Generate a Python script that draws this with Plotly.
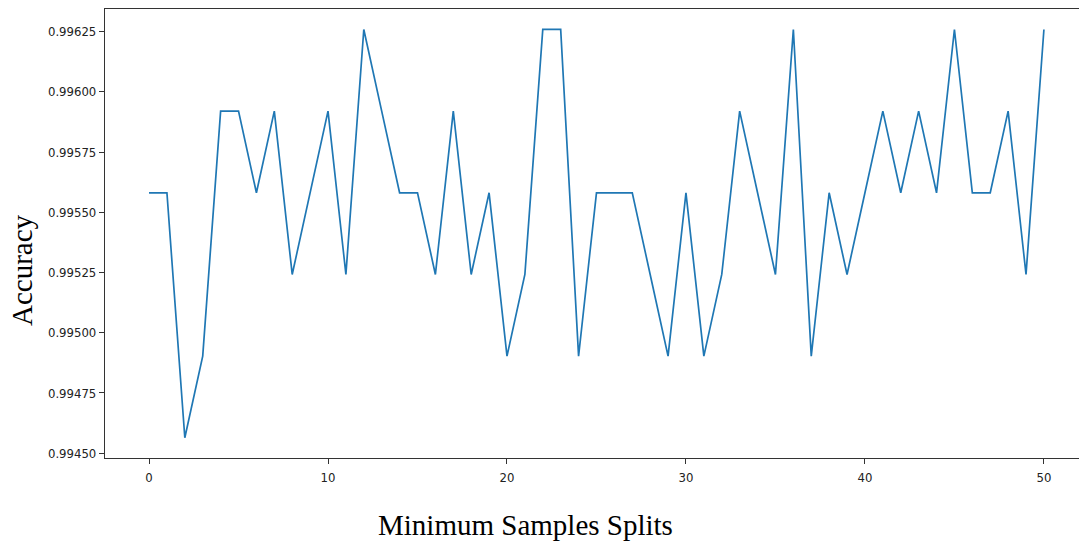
import plotly.graph_objects as go

# Minimum samples split values tried and the accuracy obtained for each
min_samples_split = list(range(0, 51))
accuracy = [
    0.995581, 0.995581, 0.994564, 0.994903, 0.995920, 0.995920, 0.995581, 0.995920,
    0.995242, 0.995581, 0.995920, 0.995242, 0.996259, 0.995920, 0.995581, 0.995581,
    0.995242, 0.995920, 0.995242, 0.995581, 0.994903, 0.995242, 0.996259, 0.996259,
    0.994903, 0.995581, 0.995581, 0.995581, 0.995242, 0.994903, 0.995581, 0.994903,
    0.995242, 0.995920, 0.995581, 0.995242, 0.996259, 0.994903, 0.995581, 0.995242,
    0.995581, 0.995920, 0.995581, 0.995920, 0.995581, 0.996259, 0.995581, 0.995581,
    0.995920, 0.995242, 0.996259,
]
x_ticks = [0, 10, 20, 30, 40, 50]
y_ticks = [0.99450, 0.99475, 0.99500, 0.99525, 0.99550, 0.99575, 0.99600, 0.99625]

fig = go.Figure()
fig.add_trace(go.Scatter(
    x=min_samples_split,
    y=accuracy,
    mode="lines",
    line=dict(color="#1f77b4", width=1.7),
    showlegend=False,
))

tick_font = dict(family="DejaVu Sans Condensed, DejaVu Sans", size=13, color="#222222")
title_font = dict(family="Liberation Serif, Times New Roman, serif", size=29, color="#000000")

fig.update_layout(
    width=1079,
    height=543,
    margin=dict(l=105, r=0, t=9, b=85),
    paper_bgcolor="white",
    plot_bgcolor="white",
    xaxis=dict(
        range=[-2.46, 51.96],
        tickvals=x_ticks,
        ticktext=[str(v) for v in x_ticks],
        showgrid=False,
        zeroline=False,
        showline=True,
        mirror=True,
        linecolor="#333333",
        linewidth=1.2,
        ticks="outside",
        ticklen=5,
        tickcolor="#333333",
        tickfont=tick_font,
        ticklabelstandoff=2,
    ),
    yaxis=dict(
        range=[0.994480, 0.996344],
        tickvals=y_ticks,
        ticktext=[f"{v:.5f}" for v in y_ticks],
        showgrid=False,
        zeroline=False,
        showline=True,
        linecolor="#333333",
        linewidth=1.2,
        ticks="outside",
        ticklen=5,
        tickcolor="#333333",
        tickfont=tick_font,
    ),
    annotations=[
        dict(
            text="Minimum Samples Splits",
            xref="paper", yref="paper",
            x=0.432, y=-0.149,
            xanchor="center", yanchor="middle",
            showarrow=False,
            font=title_font,
        ),
        dict(
            text="Accuracy",
            xref="paper", yref="paper",
            x=-0.0852, y=0.4187,
            xanchor="center", yanchor="middle",
            textangle=-90,
            showarrow=False,
            font=title_font,
        ),
    ],
)

fig.write_html("out.html")
